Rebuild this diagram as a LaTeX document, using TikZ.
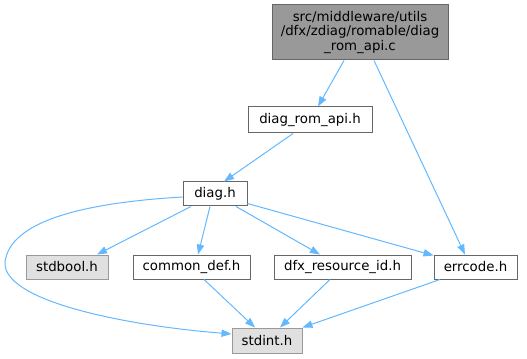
\documentclass[tikz,border=0pt]{standalone}
\usepackage{fontspec}
\setmainfont{DejaVu Sans}
\usetikzlibrary{arrows.meta}
\definecolor{edgeblue}{HTML}{63B8FF}
\definecolor{topfill}{HTML}{999999}
\definecolor{topdraw}{HTML}{666666}
\definecolor{sysfill}{HTML}{E0E0E0}
\definecolor{sysdraw}{HTML}{999999}
\tikzset{
  box/.style={draw=topdraw, fill=white, line width=0.75pt, inner sep=0pt,
    font={\fontsize{10pt}{10.9pt}\selectfont}, text=black, align=center},
  sysbox/.style={box, draw=sysdraw, fill=sysfill},
  topbox/.style={box, draw=topdraw, fill=topfill},
  edge/.style={draw=edgeblue, line width=0.75pt,
    -{Triangle[length=7.5pt,width=5.5pt]}}
}
\begin{document}
\begin{tikzpicture}[x=0.75pt,y=-0.75pt]
\useasboundingbox (0,0) rectangle (527,359);
\node[topbox, minimum width=132pt, minimum height=41.25pt] (top) at (360,32.5)
  {src/middleware/utils\\/dfx/zdiag/romable/diag\\\_rom\_api.c};
\node[box, minimum width=93pt, minimum height=19.5pt] (rom) at (310,120) {diag\_rom\_api.h};
\node[box, minimum width=48pt, minimum height=18pt] (diag) at (215,194) {diag.h};
\node[sysbox, minimum width=61.5pt, minimum height=18pt] (stdbool) at (67,267) {stdbool.h};
\node[box, minimum width=87.75pt, minimum height=18pt] (common) at (191.5,267) {common\_def.h};
\node[box, minimum width=102.75pt, minimum height=18pt] (dfx) at (342.5,267) {dfx\_resource\_id.h};
\node[box, minimum width=62.25pt, minimum height=18pt] (err) at (475.5,267) {errcode.h};
\node[sysbox, minimum width=52.5pt, minimum height=18.75pt] (stdint) at (267,340.5) {stdint.h};

\draw[edge] ([xshift=-12pt]top.south) -- ([xshift=6pt]rom.north);
\draw[edge] ([xshift=10.5pt]top.south) -- ([xshift=-7.9pt]err.north);
\draw[edge] ([xshift=-12.75pt]rom.south) -- ([xshift=6.75pt]diag.north);
\draw[edge] ([xshift=-18pt]diag.south) -- ([xshift=22.5pt]stdbool.north);
\draw[edge] ([xshift=-3.75pt]diag.south) -- ([xshift=4.9pt]common.north);
\draw[edge] ([xshift=15.75pt]diag.south) -- ([xshift=-16.9pt]dfx.north);
\draw[edge] ([yshift=2.25pt]diag.south east) -- ([yshift=-0.75pt]err.north west);
\draw[edge] ([yshift=-2.25pt]diag.west) .. controls (80,203) and (10,222) .. (5,262)
  .. controls (2,300) and (120,325) .. ([yshift=4.9pt]stdint.west);
\draw[edge] ([xshift=9.4pt]common.south) -- ([xshift=-9pt]stdint.north);
\draw[edge] ([xshift=-9.4pt]dfx.south) -- ([xshift=9.75pt]stdint.north);
\draw[edge] ([xshift=-26.6pt]err.south) -- (stdint.north east);
\end{tikzpicture}
\end{document}
